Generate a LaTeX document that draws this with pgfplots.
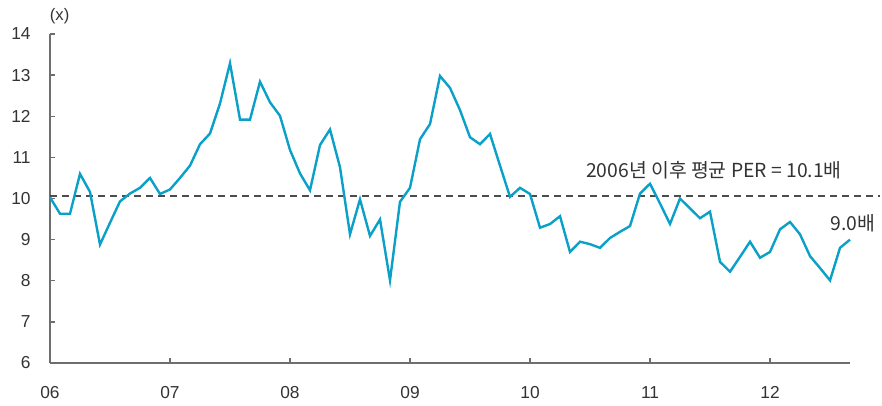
\documentclass[border=0pt]{standalone}
\usepackage{fontspec}
\setmainfont{Liberation Sans}
\newfontfamily\kr{Noto Sans CJK KR}
\usepackage{pgfplots}
\pgfplotsset{compat=1.18}
\definecolor{perline}{HTML}{0AA0C8}
\definecolor{axisgray}{HTML}{6E6E6E}
\definecolor{txt}{HTML}{333333}
\begin{document}
\begin{tikzpicture}[x=1pt,y=1pt]
\useasboundingbox (-37.5,-31.5) rectangle (624,272.25);
\begin{axis}[
  scale only axis,
  width=600pt, height=246.75pt,
  xmin=0, xmax=80, ymin=6, ymax=14,
  axis x line*=bottom, axis y line*=left,
  axis line style={axisgray, line width=1.3pt},
  tick style={axisgray, line width=1pt},
  tick align=inside,
  major tick length=4pt,
  xtick={0,12,24,36,48,60,72},
  xticklabels={06,07,08,09,10,11,12},
  ytick={6,7,...,14},
  tick label style={font=\fontsize{13}{15}\selectfont, text=txt},
  xticklabel style={yshift=-14pt},
  yticklabel style={xshift=-11pt},
  /pgf/number format/assume math mode=true,
  clip=false,
]
\addplot[dash pattern=on 5.5pt off 3.5pt, color=black!70, line width=1.5pt] coordinates {(0,10.05) (83,10.05)};
\addplot[color=perline, line width=1.8pt, mark=none] coordinates {
(0,10.03) (1,9.63) (2,9.63) (3,10.60) (4,10.16) (5,8.88) (6,9.41) (7,9.93) (8,10.12) (9,10.26)
(10,10.50) (11,10.11) (12,10.22) (13,10.50) (14,10.80) (15,11.32) (16,11.58) (17,12.31) (18,13.29) (19,11.92)
(20,11.92) (21,12.84) (22,12.34) (23,12.01) (24,11.18) (25,10.61) (26,10.20) (27,11.30) (28,11.68) (29,10.76)
(30,9.13) (31,9.98) (32,9.09) (33,9.49) (34,8.01) (35,9.92) (36,10.26) (37,11.44) (38,11.81) (39,12.98)
(40,12.69) (41,12.15) (42,11.49) (43,11.32) (44,11.57) (45,10.80) (46,10.04) (47,10.26) (48,10.11) (49,9.29)
(50,9.38) (51,9.57) (52,8.70) (53,8.95) (54,8.89) (55,8.80) (56,9.04) (57,9.19) (58,9.33) (59,10.12)
(60,10.36) (61,9.88) (62,9.38) (63,10.00) (64,9.76) (65,9.52) (66,9.68) (67,8.46) (68,8.22) (69,8.58)
(70,8.95) (71,8.56) (72,8.70) (73,9.25) (74,9.43) (75,9.13) (76,8.60) (77,8.31) (78,8.01) (79,8.80)
(80,9.00)
};
\node[text=txt, font=\fontsize{12.5}{14}\selectfont] at (rel axis cs:0.012,1.055) {(x)};
\node[text=txt, font=\kr\fontsize{14.5}{16}\selectfont] at (axis cs:66.4,10.70) {2006년 이후 평균 PER = 10.1배};
\node[text=txt, font=\kr\fontsize{14.5}{16}\selectfont] at (axis cs:80.3,9.41) {9.0배};
\end{axis}
\end{tikzpicture}
\end{document}
